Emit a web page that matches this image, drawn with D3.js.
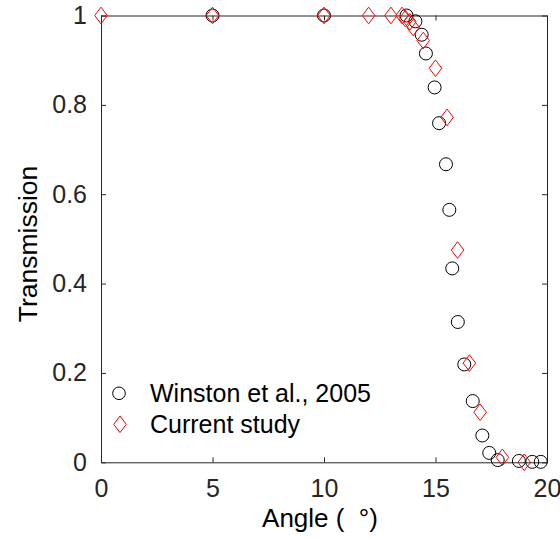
<!DOCTYPE html>
<html><head><meta charset="utf-8">
<script src="https://cdn.jsdelivr.net/npm/d3@7"></script>
<style>body{margin:0;background:#fff;} svg{display:block;}</style>
</head><body>
<svg id="chart" width="560" height="540"></svg>
<script>
const winstonAngle = [5, 10, 13.7, 14.1, 14.38, 14.57, 14.96, 15.16, 15.47, 15.62, 15.75, 16.0, 16.29, 16.67, 17.1, 17.41, 17.79, 18.74, 19.34, 19.72];
const winstonTrans = [1.0, 1.0, 1.0, 0.987, 0.957, 0.915, 0.839, 0.759, 0.667, 0.565, 0.434, 0.314, 0.219, 0.137, 0.060, 0.021, 0.005, 0.003, 0.001, 0.001];
const currentAngle = [0, 5, 10, 12, 13, 13.5, 13.65, 13.85, 14.0, 14.45, 15.0, 15.52, 15.99, 16.52, 17.0, 18.0, 18.98];
const currentTrans = [1.0, 1.0, 1.0, 1.0, 1.0, 1.0, 0.993, 0.986, 0.973, 0.944, 0.882, 0.772, 0.475, 0.222, 0.112, 0.011, 0.0];
const xTicks = [0, 5, 10, 15, 20];
const yTicks = [0, 0.2, 0.4, 0.6, 0.8, 1];
const seriesNames = ["Winston et al., 2005", "Current study"];

const svg = d3.select("#chart");
const L = 101, R = 547, T = 15.5, B = 462.3;
const x = d3.scaleLinear().domain([0, 20]).range([L, R]);
const y = d3.scaleLinear().domain([0, 1]).range([B, T]);
const font = "'Liberation Sans', Arial, Helvetica, sans-serif";
const axisCol = "#262626";
const tickLen = 5;

function styleAxis(g, hideLabels) {
  g.select(".domain").attr("stroke", axisCol).attr("stroke-width", 1);
  g.selectAll(".tick line").attr("stroke", axisCol).attr("stroke-width", 1);
  g.selectAll(".tick text").attr("fill", axisCol).style("font-family", font).style("font-size", "25px");
  if (hideLabels) g.selectAll(".tick text").remove();
}
const fmtY = d => d === 0 ? "0" : d === 1 ? "1" : d3.format(".1f")(d);

svg.append("g").attr("transform", `translate(0,${B})`)
  .call(d3.axisBottom(x).tickValues(xTicks).tickSizeInner(-tickLen).tickSizeOuter(0).tickPadding(17))
  .call(g => styleAxis(g, false));
svg.append("g").attr("transform", `translate(0,${T})`)
  .call(d3.axisTop(x).tickValues(xTicks).tickSizeInner(-tickLen).tickSizeOuter(0))
  .call(g => styleAxis(g, true));
svg.append("g").attr("transform", `translate(${L},0)`)
  .call(d3.axisLeft(y).tickValues(yTicks).tickFormat(fmtY).tickSizeInner(-tickLen).tickSizeOuter(0).tickPadding(14))
  .call(g => styleAxis(g, false));
svg.append("g").attr("transform", `translate(${R},0)`)
  .call(d3.axisRight(y).tickValues(yTicks).tickSizeInner(-tickLen).tickSizeOuter(0))
  .call(g => styleAxis(g, true));

svg.append("text").attr("x", 320).attr("y", 527).attr("text-anchor", "middle")
  .style("font-family", font).style("font-size", "26px").attr("fill", "#000")
  .text("Angle (\u00A0\u00A0°)");
svg.append("text").attr("transform", `translate(36.5,244) rotate(-90)`).attr("text-anchor", "middle")
  .style("font-family", font).style("font-size", "26.5px").attr("fill", "#000")
  .text("Transmission");

const diamond = (cx, cy) => `M${cx},${cy - 8.3}L${cx + 6.3},${cy}L${cx},${cy + 8.3}L${cx - 6.3},${cy}Z`;
const winston = winstonAngle.map((a, i) => ({a, t: winstonTrans[i]}));
const current = currentAngle.map((a, i) => ({a, t: currentTrans[i]}));

svg.append("g").selectAll("circle").data(winston).join("circle")
  .attr("cx", d => x(d.a)).attr("cy", d => y(d.t)).attr("r", 6.5)
  .attr("fill", "none").attr("stroke", "#000").attr("stroke-width", 1);
svg.append("g").selectAll("path").data(current).join("path")
  .attr("d", d => diamond(x(d.a), y(d.t)))
  .attr("fill", "none").attr("stroke", "#ff0000").attr("stroke-width", 1);

const leg = svg.append("g");
leg.append("circle").attr("cx", 119).attr("cy", 393.3).attr("r", 6.3)
  .attr("fill", "none").attr("stroke", "#000").attr("stroke-width", 1);
leg.append("path").attr("d", diamond(120, 424.3))
  .attr("fill", "none").attr("stroke", "#ff0000").attr("stroke-width", 1);
leg.append("text").attr("x", 150).attr("y", 402).style("font-family", font).style("font-size", "25px").attr("fill", "#000").text(seriesNames[0]);
leg.append("text").attr("x", 150).attr("y", 432.5).style("font-family", font).style("font-size", "25px").attr("fill", "#000").text(seriesNames[1]);
</script>
</body></html>
